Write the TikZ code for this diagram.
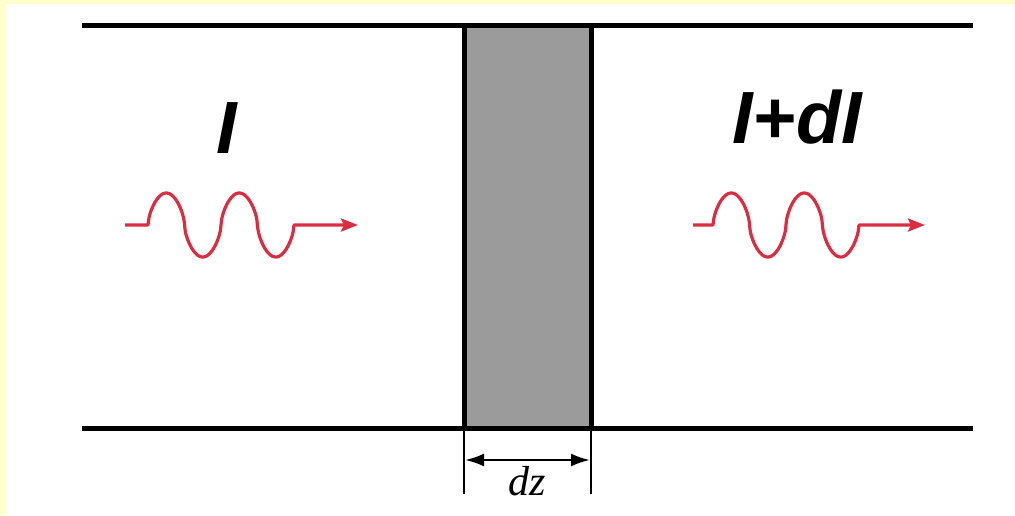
\documentclass[tikz,border=0pt]{standalone}
\usepackage{fontspec}
\setmainfont{Liberation Serif}
\newfontfamily\labfont{Liberation Sans}
\usetikzlibrary{arrows.meta}
\definecolor{bgyellow}{RGB}{255,255,204}
\definecolor{slabgray}{RGB}{155,155,155}
\definecolor{wavered}{RGB}{218,45,65}
\tikzset{
  wall/.style={line width=5pt, black},
  slab/.style={line width=5pt, draw=black, fill=slabgray},
  extline/.style={line width=2pt, black},
  dimarrow/.style={line width=2.5pt, black, {Latex[length=19pt,width=13pt]}-{Latex[length=19pt,width=13pt]}},
  wave/.style={line width=3.2pt, wavered, line join=round, -{Stealth[length=17pt,width=13pt,inset=3pt]}},
  biglabel/.style={inner sep=0pt, font=\labfont\bfseries\itshape\fontsize{74}{74}\selectfont},
  dimlabel/.style={inner sep=0pt, font=\itshape\fontsize{42}{42}\selectfont}
}
\begin{document}
\begin{tikzpicture}[x=1pt,y=-1pt]
  \useasboundingbox (0,0) rectangle (1015,515);
  \fill[bgyellow] (0,0) rectangle (1015,515);
  \fill[white] (6,4) rectangle (1015,515);
  % walls
  \coordinate (tl) at (82,25);
  \coordinate (tr) at (973,25);
  \coordinate (bl) at (82,428);
  \coordinate (br) at (973,428);
  \draw[wall] (tl) -- (tr);
  \draw[wall] (bl) -- (br);
  % slab
  \coordinate (s1) at (464,25);
  \coordinate (s2) at (591,428);
  \draw[slab] (s1) rectangle (s2);
  % dimension
  \coordinate (e1a) at (464,428);
  \coordinate (e1b) at (464,494);
  \coordinate (e2a) at (591,428);
  \coordinate (e2b) at (591,494);
  \draw[extline] (e1a) -- (e1b);
  \draw[extline] (e2a) -- (e2b);
  \coordinate (d1) at (465,460);
  \coordinate (d2) at (590,460);
  \draw[dimarrow] (d1) -- (d2);
  \node[dimlabel] (dz) at (527,481) {dz};
  % labels
  \node[biglabel] (lI) at (227,128) {I};
  \node[biglabel] (lIdI) at (797,117) {I+dI};
  % waves
  \draw[wave] (125,225) -- (148,225)
     -- plot[domain=0:146, samples=150, smooth] ({148+\x},{225-32*sin(\x/73*360)*(abs(sin(\x/73*360))+0.0001)^(-0.4)})
     -- (358,225);
  \draw[wave] (693,225) -- (713,225)
     -- plot[domain=0:146, samples=150, smooth] ({713+\x},{225-32*sin(\x/73*360)*(abs(sin(\x/73*360))+0.0001)^(-0.4)})
     -- (925,225);
\end{tikzpicture}
\end{document}
